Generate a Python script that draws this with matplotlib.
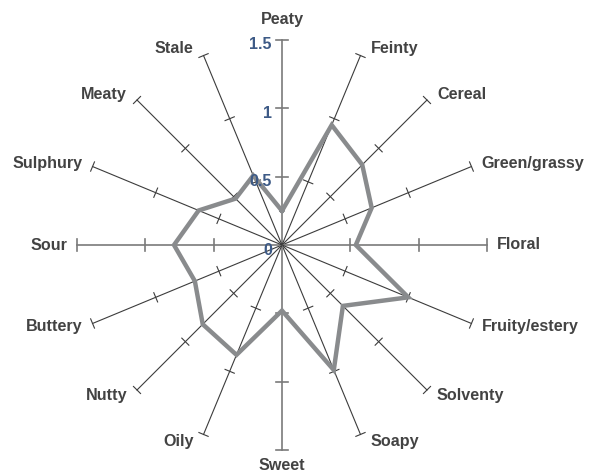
import numpy as np
import matplotlib.pyplot as plt

categories = ['Peaty', 'Feinty', 'Cereal', 'Green/grassy', 'Floral', 'Fruity/estery',
              'Solventy', 'Soapy', 'Sweet', 'Oily', 'Nutty', 'Buttery', 'Sour',
              'Sulphury', 'Meaty', 'Stale']
values = [0.25, 0.95, 0.83, 0.71, 0.54, 1.0, 0.63, 0.99, 0.48, 0.87, 0.82, 0.69,
          0.79, 0.66, 0.48, 0.55]
tick_values = [0.5, 1.0, 1.5]
tick_labels = ['0', '0.5', '1', '1.5']
r_max = 1.5

plt.rcParams['font.family'] = ['Liberation Sans', 'DejaVu Sans']

W, H = 601, 475
cx, cy = 282, 245          # centre in pixels
ppu = 136.7                # pixels per unit

fig = plt.figure(figsize=(W / 100, H / 100), dpi=100)
ax = fig.add_axes([0, 0, 1, 1])
ax.set_xlim(-cx / ppu, (W - cx) / ppu)
ax.set_ylim(-(H - cy) / ppu, cy / ppu)
ax.axis('off')

n = len(categories)
angles = np.arange(n) * 2 * np.pi / n   # clockwise from top
sx, sy = np.sin(angles), np.cos(angles)
px = 1 / ppu

# spokes with ticks
for i in range(n):
    main = i % 4 == 0
    col = '#7a7a7a' if main else '#3c3c3c'
    lw = 1.2 if main else 0.8
    ax.plot([0, r_max * sx[i]], [0, r_max * sy[i]], color=col, lw=lw, zorder=1)
    half = (6 if main else 5) * px
    for t in tick_values:
        bx, by = t * sx[i], t * sy[i]
        ax.plot([bx - half * sy[i], bx + half * sy[i]],
                [by + half * sx[i], by - half * sx[i]], color=col, lw=lw, zorder=1)

# data polygon
xs = [v * s for v, s in zip(values, sx)]
ys = [v * c for v, c in zip(values, sy)]
ax.plot(xs + xs[:1], ys + ys[:1], color='#898b8d', lw=3.2,
        solid_joinstyle='miter', zorder=3)

# category labels
for i, name in enumerate(categories):
    ex, ey = r_max * sx[i], r_max * sy[i]
    if abs(sx[i]) < 0.1:
        off = 20 if sy[i] > 0 else 15
        ax.text(ex, ey + np.sign(sy[i]) * off * px, name, ha='center', va='center',
                fontsize=11.6, fontweight='bold', color='#434343')
    else:
        ha = 'left' if sx[i] > 0 else 'right'
        ax.text(ex + np.sign(sx[i]) * 10 * px, ey + sy[i] * 8 * px, name,
                ha=ha, va='center', fontsize=11.6, fontweight='bold', color='#434343')

# radial tick labels
for k, lab in enumerate(tick_labels):
    r = k * 0.5
    ax.text(-10 * px, r - (6 if k == 0 else 5) * px, lab, ha='right', va='center',
            fontsize=11.5, fontweight='bold', color='#3d5a86', zorder=4)

fig.savefig('out.png', dpi=100)
